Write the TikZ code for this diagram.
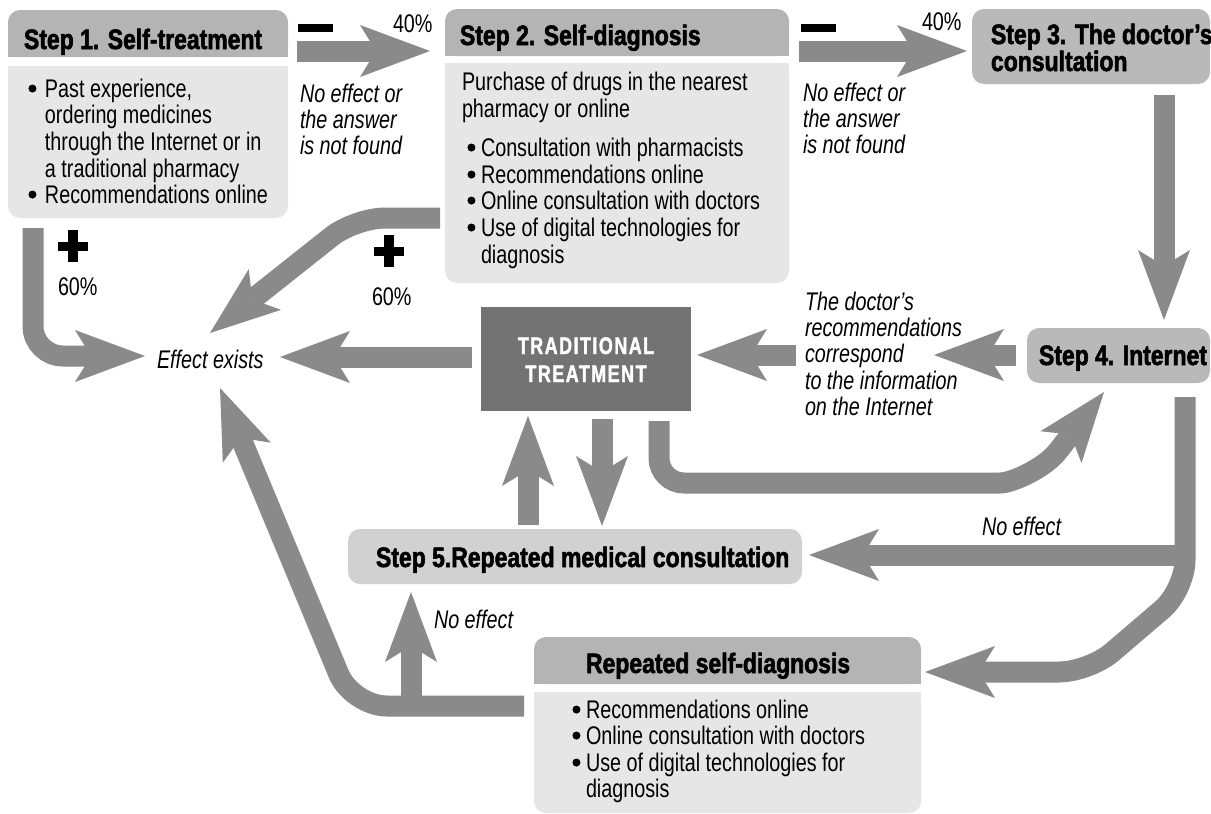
\documentclass[tikz,border=0pt]{standalone}
\usepackage{fontspec}
\setmainfont{Liberation Sans}[FakeStretch=0.775]
\newfontfamily\hdfont{Liberation Sans Bold}[FakeStretch=0.82,FakeBold=2]
\newfontfamily\trfont{Liberation Sans Bold}[FakeStretch=0.75,FakeBold=1.5,LetterSpace=6]
\newfontfamily\bulfont{Liberation Sans}[FakeBold=4]
\usetikzlibrary{arrows.meta}
\definecolor{hdrgray}{HTML}{B4B4B4}
\definecolor{bodygray}{HTML}{E6E6E6}
\definecolor{stepgray}{HTML}{B9B9B9}
\definecolor{sfivegray}{HTML}{D1D1D1}
\definecolor{tradgray}{HTML}{737373}
\definecolor{arrgray}{HTML}{8A8A8A}
\newcommand\bodysz{\fontsize{25.5}{26.6}\selectfont}
\newcommand\hdsz{\hdfont\fontsize{28}{29}\selectfont}
\newcommand\bu[1]{\makebox[#1][l]{\bulfont\fontsize{25.5}{26}\selectfont •}}
\begin{document}
\begin{tikzpicture}[x=1pt,y=-1pt,
  box/.style={rectangle, inner sep=0pt, outer sep=0pt, anchor=north west, rounded corners=12pt},
  txt/.style={anchor=base west, inner sep=0pt, outer sep=0pt, font=\bodysz},
  itx/.style={anchor=base west, inner sep=0pt, outer sep=0pt, font=\bodysz\itshape},
  hd/.style={anchor=base west, inner sep=0pt, outer sep=0pt, font=\hdsz},
  trt/.style={anchor=base, inner sep=0pt, outer sep=0pt, text=white, font=\trfont\fontsize{24}{25}\selectfont},
  signbar/.style={rectangle, fill=black, inner sep=0pt, outer sep=0pt, anchor=north west},
  bigarrow/.style={draw=arrgray, line width=21pt, -{Stealth[length=70pt,width=52pt,inset=16pt,line width=0pt]}}
]
\useasboundingbox (0,0) rectangle (1211,814);
\fill[white] (0,0) rectangle (1211,814);

% ---------- boxes ----------
\node[box, fill=hdrgray, minimum width=280pt, minimum height=47pt] (s1h) at (8,10) {};
\fill[hdrgray] (s1h.west) rectangle (s1h.south east);
\node[box, fill=bodygray, minimum width=280pt, minimum height=152pt] (s1b) at (8,66) {};
\fill[bodygray] (s1b.north west) rectangle (s1b.east);

\node[box, fill=hdrgray, minimum width=344pt, minimum height=47pt] (s2h) at (445,9) {};
\fill[hdrgray] (s2h.west) rectangle (s2h.south east);
\node[box, fill=bodygray, minimum width=344pt, minimum height=220pt] (s2b) at (445,63) {};
\fill[bodygray] (s2b.north west) rectangle (s2b.east);

\node[box, fill=stepgray, minimum width=238pt, minimum height=75pt] (s3) at (972,9) {};
\node[box, fill=stepgray, minimum width=183pt, minimum height=55pt] (s4) at (1027,328) {};
\node[box, fill=tradgray, rounded corners=0pt, minimum width=210pt, minimum height=104pt] (tr) at (481,307) {};
\node[box, fill=sfivegray, minimum width=454pt, minimum height=55pt] (s5) at (348,529) {};

\node[box, fill=hdrgray, minimum width=387pt, minimum height=47pt] (rsh) at (534,637) {};
\fill[hdrgray] (rsh.west) rectangle (rsh.south east);
\node[box, fill=bodygray, minimum width=387pt, minimum height=121pt] (rsb) at (534,692) {};
\fill[bodygray] (rsb.north west) rectangle (rsb.east);

% ---------- arrow end points ----------
\coordinate (a12s) at (297,51);   \coordinate (a12e) at (430,51);
\coordinate (a23s) at (799,51);   \coordinate (a23e) at (967,51);
\coordinate (a34s) at (1164,95);  \coordinate (a34e) at (1164,320);
\coordinate (a4ls) at (1016,355); \coordinate (a4le) at (934,355);
\coordinate (alts) at (796,355);  \coordinate (alte) at (697,355);
\coordinate (ates) at (472,357);  \coordinate (atee) at (280,357);
\coordinate (a1es) at (33,228);   \coordinate (a1ee) at (145,356);
\coordinate (a2es) at (440,218);  \coordinate (a2ec) at (355,218); \coordinate (a2ee) at (210,333);
\coordinate (atus) at (528,525);  \coordinate (atue) at (528,416);
\coordinate (atds) at (602,419);  \coordinate (atde) at (602,526);
\coordinate (at4s) at (659,421);  \coordinate (at4c) at (975,483);
\coordinate (at4k) at (1012,483); \coordinate (at4l) at (1045,468); \coordinate (at4m) at (1058,451);
\coordinate (at4e) at (1104,392);
\coordinate (d4s) at (1185,397);  \coordinate (d4c) at (1185,590); \coordinate (d4d) at (1089,672); \coordinate (d4e) at (925,672);
\coordinate (n5s) at (1185,555);  \coordinate (n5e) at (809,555);
\coordinate (res) at (524,706);   \coordinate (rec) at (352,706);  \coordinate (ree) at (220,388);
\coordinate (r5s) at (411,706);   \coordinate (r5e) at (411,592);

% ---------- arrows ----------
\draw[bigarrow] (a12s) -- (a12e);
\draw[bigarrow] (a23s) -- (a23e);
\draw[bigarrow] (a34s) -- (a34e);
\draw[bigarrow] (a4ls) -- (a4le);
\draw[bigarrow] (alts) -- (alte);
\draw[bigarrow] (ates) -- (atee);
\draw[bigarrow, rounded corners=30pt] (a1es) |- (a1ee);
\draw[bigarrow, rounded corners=30pt] (a2es) -- (a2ec) -- (a2ee);
\draw[bigarrow] (atus) -- (atue);
\draw[bigarrow] (atds) -- (atde);
\draw[bigarrow] (at4s) [rounded corners=25pt] |- (at4c) [sharp corners] .. controls (at4k) and (at4l) .. (at4m) -- (at4e);
\draw[bigarrow, rounded corners=30pt] (d4s) -- (d4c) -- (d4d) -- (d4e);
\draw[bigarrow] (n5s) -- (n5e);
\draw[bigarrow, rounded corners=35pt] (res) -- (rec) -- (ree);
\draw[bigarrow] (r5s) -- (r5e);

% ---------- signs ----------
\node[signbar, minimum width=35pt, minimum height=8pt] (minusA) at (298,24) {};
\node[signbar, minimum width=35pt, minimum height=8pt] (minusB) at (801,24) {};
\node[signbar, minimum width=30pt, minimum height=9pt] (plusAh) at (58,242) {};
\node[signbar, minimum width=10pt, minimum height=32pt] (plusAv) at (68,230) {};
\node[signbar, minimum width=30pt, minimum height=9pt] (plusBh) at (374,247) {};
\node[signbar, minimum width=10pt, minimum height=32pt] (plusBv) at (384,235) {};

% ---------- texts ----------
\node[hd] (t1h) at (24,49) {Step 1. Self-treatment};
\node[txt] (t1l1) at (28,97) {\bu{17pt}Past experience,};
\node[txt] (t1l2) at (45,123) {ordering medicines};
\node[txt] (t1l3) at (45,150) {through the Internet or in};
\node[txt] (t1l4) at (45,177) {a traditional pharmacy};
\node[txt] (t1l5) at (28,203) {\bu{17pt}Recommendations online};

\node[txt] (p40a) at (393,32) {40\%};
\node[itx] (nea1) at (300,102) {No effect or};
\node[itx] (nea2) at (300,128) {the answer};
\node[itx] (nea3) at (300,154) {is not found};

\node[hd] (t2h) at (460,45) {Step 2. Self-diagnosis};
\node[txt] (t2l1) at (462,90) {Purchase of drugs in the nearest};
\node[txt] (t2l2) at (462,117) {pharmacy or online};
\node[txt] (t2l3) at (467,156) {\bu{14pt}Consultation with pharmacists};
\node[txt] (t2l4) at (467,183) {\bu{14pt}Recommendations online};
\node[txt] (t2l5) at (467,209) {\bu{14pt}Online consultation with doctors};
\node[txt] (t2l6) at (467,236) {\bu{14pt}Use of digital technologies for};
\node[txt] (t2l7) at (481,263) {diagnosis};

\node[txt] (p40b) at (922,30) {40\%};
\node[itx] (neb1) at (803,101) {No effect or};
\node[itx] (neb2) at (803,127) {the answer};
\node[itx] (neb3) at (803,153) {is not found};

\node[hd] (t3a) at (991,44) {Step 3. The doctor’s};
\node[hd] (t3b) at (991,71) {consultation};
\node[hd] (t4) at (1039,365) {Step 4. Internet};

\node[itx] (dr1) at (805,310) {The doctor’s};
\node[itx] (dr2) at (805,336) {recommendations};
\node[itx] (dr3) at (805,362) {correspond};
\node[itx] (dr4) at (805,389) {to the information};
\node[itx] (dr5) at (805,415) {on the Internet};

\node[trt] (tra) at (586,354) {TRADITIONAL};
\node[trt] (trb) at (586,382) {TREATMENT};

\node[itx] (eff) at (157,368) {Effect exists};
\node[txt] (p60a) at (58,295) {60\%};
\node[txt] (p60b) at (372,305) {60\%};

\node[hd] (t5) at (376,567) {Step 5.Repeated medical consultation};
\node[itx] (nef1) at (982,535) {No effect};
\node[itx] (nef2) at (434,628) {No effect};

\node[hd] (trh) at (586,673) {Repeated self-diagnosis};
\node[txt] (trl1) at (572,718) {\bu{14pt}Recommendations online};
\node[txt] (trl2) at (572,744) {\bu{14pt}Online consultation with doctors};
\node[txt] (trl3) at (572,771) {\bu{14pt}Use of digital technologies for};
\node[txt] (trl4) at (586,797) {diagnosis};
\end{tikzpicture}
\end{document}
